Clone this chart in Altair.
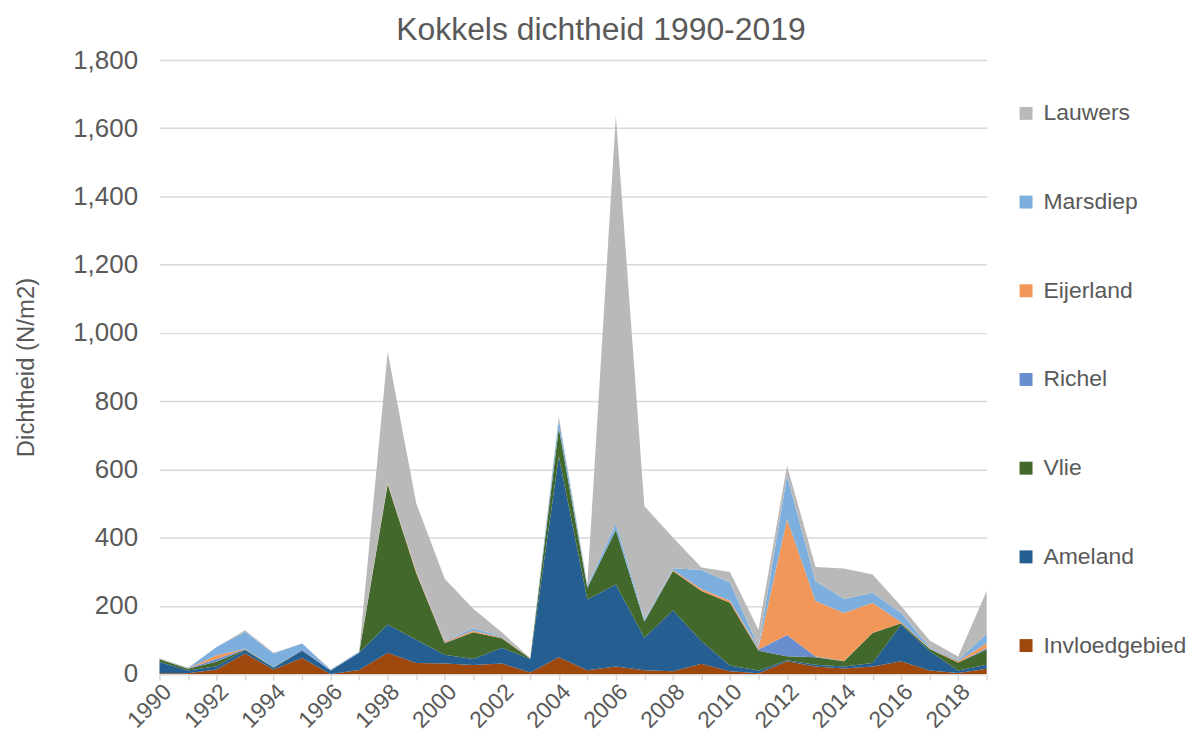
import altair as alt
import pandas as pd

years = list(range(1990, 2020))

invloedgebied = [2, 2, 13, 60, 13, 47, 0, 12, 62, 32, 31, 26, 31, 4, 49, 11, 22, 11, 8, 30,
                 8, 2, 37, 22, 16, 22, 37, 10, 3, 15]
ameland = [33, 8, 10, 10, 5, 21, 10, 50, 83, 68, 25, 18, 46, 40, 589, 207, 240, 95, 179, 67,
           17, 8, 3, 5, 6, 10, 108, 57, 7, 12]
vlie = [8, 5, 13, 2, 2, 1, 0, 0, 411, 196, 34, 78, 28, 1, 83, 34, 160, 47, 115, 146,
        184, 58, 12, 22, 15, 88, 4, 6, 24, 45]
richel = [0, 1, 8, 1, 0, 4, 0, 0, 0, 0, 2, 0, 0, 0, 0, 0, 0, 0, 0, 0,
          0, 4, 62, 2, 1, 0, 0, 0, 0, 4]
eijerland = [0, 0, 11, 1, 0, 0, 0, 0, 3, 4, 4, 5, 2, 0, 0, 0, 0, 0, 3, 6,
             6, 4, 340, 163, 141, 89, 3, 2, 3, 14]
marsdiep = [0, 1, 24, 50, 40, 16, 2, 3, 2, 1, 2, 7, 3, 0, 25, 6, 19, 6, 5, 56,
            53, 4, 127, 58, 41, 29, 27, 3, 4, 28]
lauwers = [3, 1, 0, 4, 2, 0, 2, 0, 384, 200, 181, 57, 12, 1, 8, 6, 1196, 333, 90, 7,
           31, 50, 30, 42, 89, 54, 20, 20, 10, 125]

series_names = ["Invloedgebied", "Ameland", "Vlie", "Richel", "Eijerland", "Marsdiep", "Lauwers"]
series_vals = [invloedgebied, ameland, vlie, richel, eijerland, marsdiep, lauwers]
series_colors = ["#9E480E", "#255E91", "#43682B", "#698ED0", "#F1975A", "#7CAFDD", "#B9B9B9"]

rows = []
for k, (name, vals) in enumerate(zip(series_names, series_vals)):
    for y, v in zip(years, vals):
        rows.append({"year": y, "gebied": name, "waarde": v, "ord": k})
df = pd.DataFrame(rows)

legend_order = series_names[::-1]
legend_colors = series_colors[::-1]

font = "Liberation Sans"
grey = "#595959"

chart = alt.Chart(df).mark_area(interpolate="linear", opacity=1).encode(
    x=alt.X("year:Q",
            scale=alt.Scale(domain=[1990, 2019], nice=False, zero=False),
            axis=alt.Axis(values=years, labelExpr="datum.value % 2 == 0 ? datum.value : ''",
                          labelAngle=-45, title=None, grid=False, tickColor="#D9D9D9",
                          domainColor="#D9D9D9", domainWidth=1.5, tickSize=6, tickWidth=1.5,
                          labelFontSize=23, labelColor=grey, labelFont=font, labelPadding=0)),
    y=alt.Y("waarde:Q", stack="zero",
            scale=alt.Scale(domain=[0, 1800], nice=False),
            axis=alt.Axis(values=list(range(0, 1801, 200)), format=",.0f", title="Dichtheid (N/m2)",
                          titleFontSize=24, titleFontWeight="normal", titleColor=grey, titleFont=font,
                          titlePadding=34,
                          labelFontSize=26, labelColor=grey, labelFont=font, labelPadding=22,
                          domain=False, ticks=False, gridColor="#D9D9D9", gridWidth=1.5)),
    color=alt.Color("gebied:N",
                    scale=alt.Scale(domain=legend_order, range=legend_colors),
                    legend=alt.Legend(title=None, orient="none", legendX=858, legendY=42,
                                      symbolType="square", symbolSize=169, symbolStrokeWidth=0,
                                      labelFontSize=23, labelColor=grey, labelFont=font,
                                      rowPadding=65, labelOffset=6)),
    order=alt.Order("ord:Q", sort="ascending"),
).properties(
    width=830, height=616,
    padding={"left": 6, "top": 5, "right": 0, "bottom": 0},
    title=alt.TitleParams("Kokkels dichtheid 1990-2019", fontSize=32, font=font, color=grey,
                          fontWeight="normal", anchor="middle", frame="bounds", offset=0),
).configure_view(stroke=None)

chart.save("out.html", embed_options={"renderer": "svg", "actions": False})
